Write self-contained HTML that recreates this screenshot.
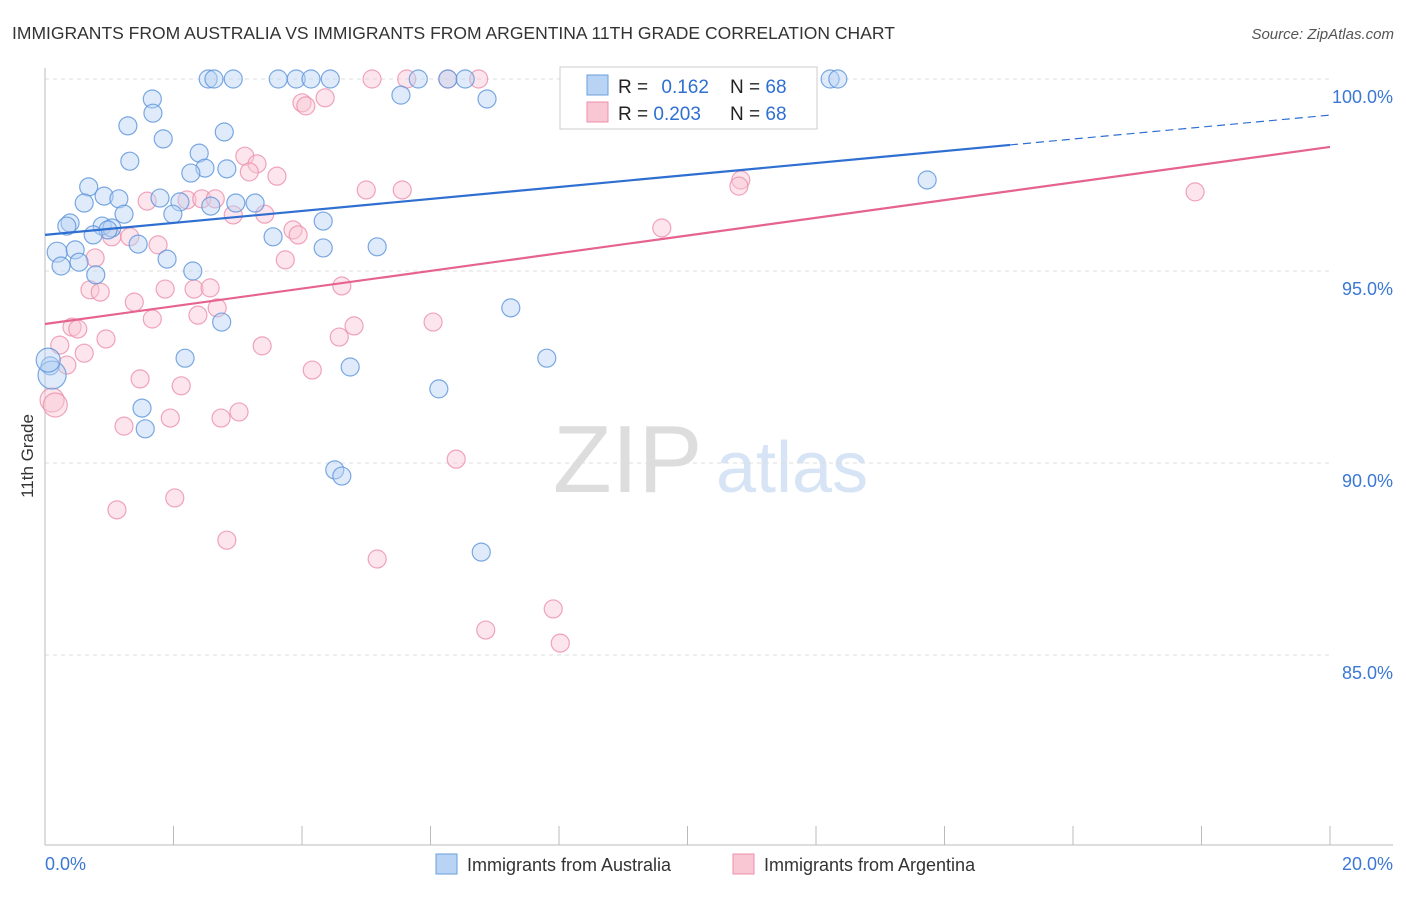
<!DOCTYPE html>
<html><head><meta charset="utf-8">
<style>
body{margin:0;background:#fff;font-family:"Liberation Sans",sans-serif;}
svg text{font-family:"Liberation Sans",sans-serif;}
</style></head>
<body>
<svg id="chart" width="1406" height="892" viewBox="0 0 1406 892">
<text x="12" y="39" font-size="17.5" fill="#333">IMMIGRANTS FROM AUSTRALIA VS IMMIGRANTS FROM ARGENTINA 11TH GRADE CORRELATION CHART</text>
<text x="1394" y="39" font-size="15" fill="#555" font-style="italic" text-anchor="end">Source: ZipAtlas.com</text>
<text x="33" y="456" font-size="17" fill="#333" text-anchor="middle" transform="rotate(-90 33 456)">11th Grade</text>
<g>
<text x="553" y="492" font-size="96" fill="#ddd" font-family="Liberation Serif">ZIP</text>
<text x="716" y="492" font-size="72" fill="#d6e4f5">atlas</text>
</g>
<g id="grid"></g>
<g id="axes"></g>
<g id="points"></g>
<g id="lines"></g>
<g>
<rect x="560" y="67" width="257" height="62" fill="#fff" stroke="#ccc"/>
<rect x="587" y="75" width="21" height="20" fill="#b8d3f3" stroke="#6a9fde"/>
<rect x="587" y="102" width="21" height="20" fill="#f9c6d4" stroke="#ec8fab"/>
<text x="618" y="93" font-size="19" fill="#222">R = <tspan fill="#2f6fd1" dx="8">0.162</tspan></text>
<text x="730" y="93" font-size="19" fill="#222">N = <tspan fill="#2f6fd1">68</tspan></text>
<text x="618" y="120" font-size="19" fill="#222">R = <tspan fill="#2f6fd1">0.203</tspan></text>
<text x="730" y="120" font-size="19" fill="#222">N = <tspan fill="#2f6fd1">68</tspan></text>
</g>
<g>
<rect x="436" y="854" width="21" height="20" fill="#b8d3f3" stroke="#6a9fde"/>
<text x="467" y="871" font-size="18" fill="#333">Immigrants from Australia</text>
<rect x="733" y="854" width="21" height="20" fill="#f9c6d4" stroke="#ec8fab"/>
<text x="764" y="871" font-size="18" fill="#333">Immigrants from Argentina</text>
</g>
</svg>
<script>
const yTicks=[100,95,90,85];
const yTickLabels=["100.0%","95.0%","90.0%","85.0%"];
const xTickLabels=["0.0%","20.0%"];
const blueX=[2.54,2.63,2.93,3.63,3.91,4.14,4.44,5.81,6.27,6.54,12.22,12.34,1.67,5.54,6.88,1.68,1.29,2.79,1.84,1.32,2.40,2.49,2.83,2.27,0.68,0.92,1.15,1.79,2.10,2.58,2.97,3.27,0.61,1.23,1.99,4.33,0.39,0.34,0.89,1.04,0.98,0.75,3.55,1.45,4.33,5.17,0.19,0.47,0.25,0.53,1.90,2.30,0.79,13.73,7.25,2.75,2.18,7.81,0.08,4.75,6.13,1.51,1.56,4.51,4.62,6.79,0.11,0.05];
const blueY=[100,100,100,100,100,100,100,100,100,100,100,100,99.48,99.58,99.48,99.11,98.78,98.62,98.44,97.86,98.07,97.68,97.66,97.55,97.19,96.95,96.88,96.90,96.80,96.69,96.77,96.77,96.77,96.48,96.48,96.30,96.25,96.17,96.17,96.12,96.07,95.94,95.89,95.70,95.60,95.63,95.49,95.55,95.13,95.23,95.31,95.0,94.90,97.37,94.04,93.67,92.73,92.73,92.53,92.50,91.93,91.43,90.89,89.82,89.66,87.68,92.29,92.68];
const blueR=[9,9,9,9,9,9,9,9,9,9,9,9,9,9,9,9,9,9,9,9,9,9,9,9,9,9,9,9,9,9,9,9,9,9,9,9,9,9,9,9,9,9,9,9,9,9,10,9,9,9,9,9,9,9,9,9,9,9,9,9,9,9,9,9,9,9,14,12];
const pinkX=[5.09,5.63,6.27,6.75,8.20,4.0,4.06,4.36,3.11,3.30,3.18,3.61,5.0,5.56,10.83,10.80,17.9,1.59,2.21,2.44,2.65,2.93,3.42,1.04,1.32,1.76,3.86,3.94,9.60,0.78,3.74,0.70,0.86,1.39,1.87,2.32,2.57,2.38,2.68,1.67,0.42,0.51,4.81,4.58,6.04,4.62,3.38,0.95,0.23,0.61,0.34,4.16,1.48,2.12,3.02,2.74,1.95,1.23,6.40,1.12,2.02,2.83,5.17,7.91,6.86,8.02,0.11,0.16];
const pinkY=[100,100,100,100,100,99.38,99.30,99.51,97.99,97.79,97.58,97.47,97.11,97.11,97.37,97.21,97.06,96.82,96.85,96.88,96.88,96.46,96.48,95.89,95.89,95.68,96.07,95.94,96.12,95.34,95.29,94.51,94.45,94.19,94.53,94.53,94.56,93.85,94.04,93.75,93.54,93.49,93.57,93.28,93.67,94.61,93.05,93.23,93.07,92.86,92.55,92.42,92.19,92.01,91.33,91.17,91.17,90.96,90.10,88.78,89.09,87.99,87.50,86.20,85.65,85.31,91.64,91.51];
const blueLine=[95.94,99.06], blueSolidEnd=15.02;
const pinkLine=[93.62,98.23];
const X0=45,X1=1330,Y100=79,PXPP=38.4;
const sx=v=>X0+(X1-X0)*v/20;
const sy=v=>Y100+(100-v)*PXPP;
const NS="http://www.w3.org/2000/svg";
function mk(tag,attrs,parent){const e=document.createElementNS(NS,tag);for(const k in attrs)e.setAttribute(k,attrs[k]);parent.appendChild(e);return e;}
const grid=document.getElementById('grid'),axes=document.getElementById('axes'),pts=document.getElementById('points'),lines=document.getElementById('lines');
yTicks.forEach((t,i)=>{
 const g=mk('line',{x1:X0,x2:X1,y1:sy(t),y2:sy(t),stroke:'#ddd','stroke-dasharray':'4,4'},grid);
 
 
 const tx=mk('text',{x:1393,y:sy(t)+24,'font-size':18,fill:'#3a78d4','text-anchor':'end'},axes);
 tx.textContent=yTickLabels[i];
 
 
});
let a=mk('line',{x1:X0,x2:X0,y1:68,y2:845,stroke:'#bbb'},axes);


a=mk('line',{x1:X0,x2:1393,y1:845,y2:845,stroke:'#bbb'},axes);


for(let i=0;i<=10;i++){
 const t=mk('line',{x1:sx(i*2),x2:sx(i*2),y1:826,y2:845,stroke:'#bbb'},axes);
 
 
}
[[0,'start',45],[20,'end',1393]].forEach((d,i)=>{
 const tx=mk('text',{x:d[2],y:870,'font-size':18,fill:'#3a78d4','text-anchor':d[1]},axes);
 tx.textContent=xTickLabels[i];
 
 
});
function drawPts(X,Y,R,fill,stroke,name){
 X.forEach((x,i)=>{
  const c=mk('circle',{cx:sx(x),cy:sy(Y[i]),r:R?R[i]:9,fill:fill,'fill-opacity':0.45,stroke:stroke,'stroke-width':1.2,'stroke-opacity':0.8},pts);
  
  
 });
}
const pinkR=pinkX.map((x,i)=>i>=66?12:9);
drawPts(pinkX,pinkY,pinkR,'#f9c6d4','#ec8fab','point-argentina');
drawPts(blueX,blueY,blueR,'#b8d3f3','#5b93db','point-australia');
const bAt=v=>blueLine[0]+(blueLine[1]-blueLine[0])*v/20;
let l=mk('line',{x1:sx(0),y1:sy(bAt(0)),x2:sx(blueSolidEnd),y2:sy(bAt(blueSolidEnd)),stroke:'#2f6fd1','stroke-width':2.2},lines);


l=mk('line',{x1:sx(blueSolidEnd),y1:sy(bAt(blueSolidEnd)),x2:sx(20),y2:sy(bAt(20)),stroke:'#2f6fd1','stroke-width':1.2,'stroke-dasharray':'8,5'},lines);


l=mk('line',{x1:sx(0),y1:sy(pinkLine[0]),x2:sx(20),y2:sy(pinkLine[1]),stroke:'#e5638e','stroke-width':2.2},lines);


</script>
</body></html>
